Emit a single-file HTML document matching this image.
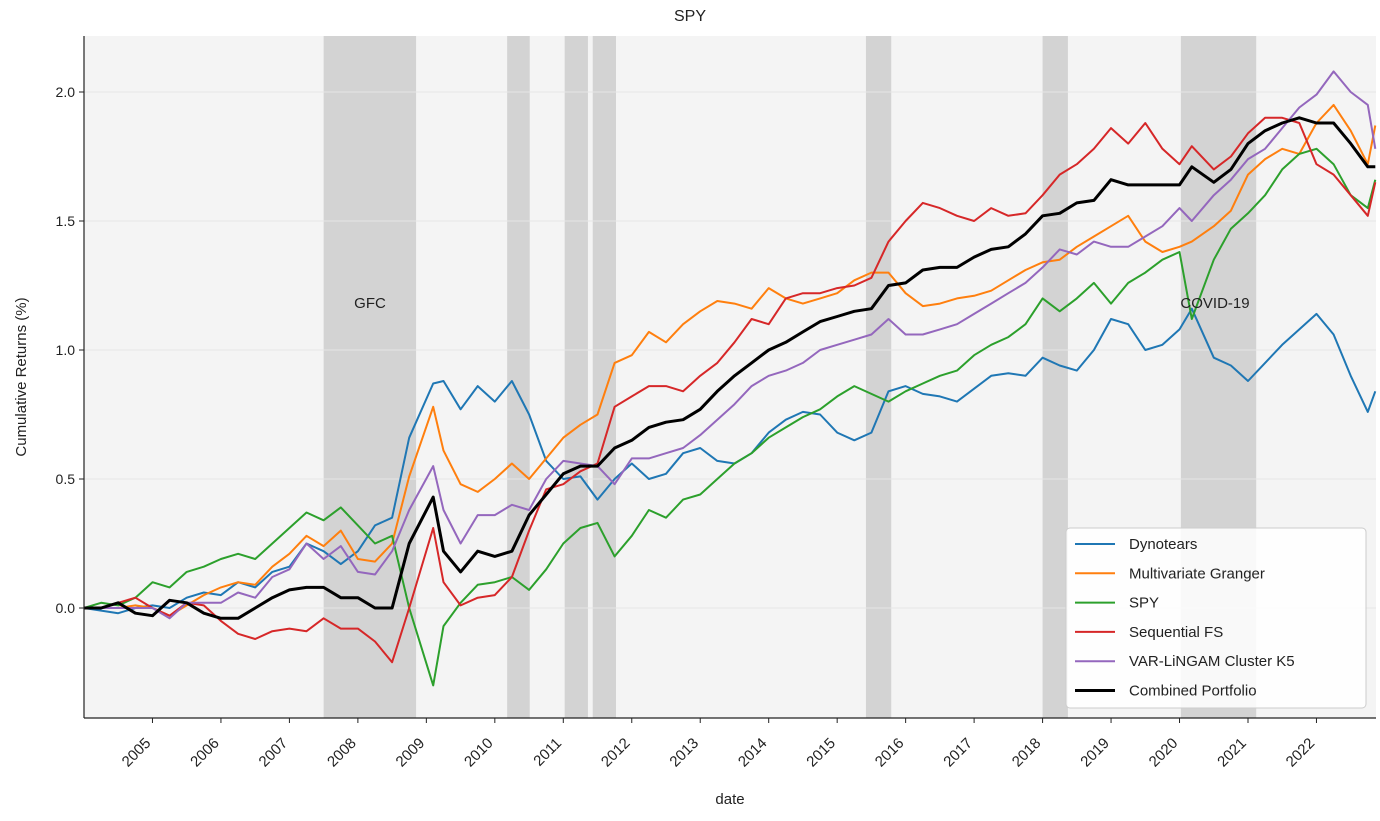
<!DOCTYPE html>
<html><head><meta charset="utf-8"><style>
body{margin:0;background:#fff;}
svg text{font-family:"Liberation Sans","DejaVu Sans",sans-serif;fill:#222;}
</style></head><body>
<svg id="chart" width="1380" height="816" xmlns="http://www.w3.org/2000/svg">
<rect x="0" y="0" width="1380" height="816" fill="#fff"/>
<rect x="84" y="36" width="1292" height="682" fill="#f4f4f4"/>
<g id="shade"></g><g id="grid"></g><g id="series"></g><g id="axes"></g>
<text x="690" y="21" text-anchor="middle" font-size="16">SPY</text>
<text transform="translate(26,377) rotate(-90)" text-anchor="middle" font-size="15">Cumulative Returns (%)</text>
<text x="730" y="804" text-anchor="middle" font-size="15">date</text>
<text x="370" y="308" text-anchor="middle" font-size="15">GFC</text>
<text x="1215" y="308" text-anchor="middle" font-size="15">COVID-19</text>
<g id="legend"></g>
</svg>
<script>
const dates=[2004,2004.25,2004.5,2004.75,2005,2005.25,2005.5,2005.75,2006,2006.25,2006.5,2006.75,2007,2007.25,2007.5,2007.75,2008,2008.25,2008.5,2008.75,2009.1,2009.25,2009.5,2009.75,2010,2010.25,2010.5,2010.75,2011,2011.25,2011.5,2011.75,2012,2012.25,2012.5,2012.75,2013,2013.25,2013.5,2013.75,2014,2014.25,2014.5,2014.75,2015,2015.25,2015.5,2015.75,2016,2016.25,2016.5,2016.75,2017,2017.25,2017.5,2017.75,2018,2018.25,2018.5,2018.75,2019,2019.25,2019.5,2019.75,2020,2020.18,2020.5,2020.75,2021,2021.25,2021.5,2021.75,2022,2022.25,2022.5,2022.75,2022.86];
const dynotears=[0,-0.01,-0.02,0,0.01,0,0.04,0.06,0.05,0.1,0.08,0.14,0.16,0.25,0.22,0.17,0.22,0.32,0.35,0.66,0.87,0.88,0.77,0.86,0.8,0.88,0.75,0.57,0.5,0.51,0.42,0.5,0.56,0.5,0.52,0.6,0.62,0.57,0.56,0.6,0.68,0.73,0.76,0.75,0.68,0.65,0.68,0.84,0.86,0.83,0.82,0.8,0.85,0.9,0.91,0.9,0.97,0.94,0.92,1.0,1.12,1.1,1.0,1.02,1.08,1.16,0.97,0.94,0.88,0.95,1.02,1.08,1.14,1.06,0.9,0.76,0.84];
const granger=[0,0,0,0.01,0,-0.03,0.01,0.05,0.08,0.1,0.09,0.16,0.21,0.28,0.24,0.3,0.19,0.18,0.25,0.51,0.78,0.61,0.48,0.45,0.5,0.56,0.5,0.58,0.66,0.71,0.75,0.95,0.98,1.07,1.03,1.1,1.15,1.19,1.18,1.16,1.24,1.2,1.18,1.2,1.22,1.27,1.3,1.3,1.22,1.17,1.18,1.2,1.21,1.23,1.27,1.31,1.34,1.35,1.4,1.44,1.48,1.52,1.42,1.38,1.4,1.42,1.48,1.54,1.68,1.74,1.78,1.76,1.88,1.95,1.85,1.72,1.87];
const spy=[0,0.02,0.01,0.04,0.1,0.08,0.14,0.16,0.19,0.21,0.19,0.25,0.31,0.37,0.34,0.39,0.32,0.25,0.28,0.0,-0.3,-0.07,0.02,0.09,0.1,0.12,0.07,0.15,0.25,0.31,0.33,0.2,0.28,0.38,0.35,0.42,0.44,0.5,0.56,0.6,0.66,0.7,0.74,0.77,0.82,0.86,0.83,0.8,0.84,0.87,0.9,0.92,0.98,1.02,1.05,1.1,1.2,1.15,1.2,1.26,1.18,1.26,1.3,1.35,1.38,1.12,1.35,1.47,1.53,1.6,1.7,1.76,1.78,1.72,1.6,1.55,1.66];
const seqfs=[0,0,0.02,0.04,0,-0.03,0.02,0.01,-0.05,-0.1,-0.12,-0.09,-0.08,-0.09,-0.04,-0.08,-0.08,-0.13,-0.21,0.0,0.31,0.1,0.01,0.04,0.05,0.12,0.3,0.46,0.48,0.53,0.56,0.78,0.82,0.86,0.86,0.84,0.9,0.95,1.03,1.12,1.1,1.2,1.22,1.22,1.24,1.25,1.28,1.42,1.5,1.57,1.55,1.52,1.5,1.55,1.52,1.53,1.6,1.68,1.72,1.78,1.86,1.8,1.88,1.78,1.72,1.79,1.7,1.75,1.84,1.9,1.9,1.88,1.72,1.68,1.6,1.52,1.65];
const lingam=[0,0,0,0,0,-0.04,0.02,0.02,0.02,0.06,0.04,0.12,0.15,0.25,0.19,0.24,0.14,0.13,0.22,0.38,0.55,0.38,0.25,0.36,0.36,0.4,0.38,0.5,0.57,0.56,0.55,0.48,0.58,0.58,0.6,0.62,0.67,0.73,0.79,0.86,0.9,0.92,0.95,1.0,1.02,1.04,1.06,1.12,1.06,1.06,1.08,1.1,1.14,1.18,1.22,1.26,1.32,1.39,1.37,1.42,1.4,1.4,1.44,1.48,1.55,1.5,1.6,1.66,1.74,1.78,1.86,1.94,1.99,2.08,2.0,1.95,1.78];
const combined=[0,0,0.02,-0.02,-0.03,0.03,0.02,-0.02,-0.04,-0.04,0,0.04,0.07,0.08,0.08,0.04,0.04,0,0,0.25,0.43,0.22,0.14,0.22,0.2,0.22,0.36,0.44,0.52,0.55,0.55,0.62,0.65,0.7,0.72,0.73,0.77,0.84,0.9,0.95,1.0,1.03,1.07,1.11,1.13,1.15,1.16,1.25,1.26,1.31,1.32,1.32,1.36,1.39,1.4,1.45,1.52,1.53,1.57,1.58,1.66,1.64,1.64,1.64,1.64,1.71,1.65,1.7,1.8,1.85,1.88,1.9,1.88,1.88,1.8,1.71,1.71];
const yTicks=[0,0.5,1.0,1.5,2.0];
const yTickLabels=["0.0","0.5","1.0","1.5","2.0"];
const xTicks=[2005,2006,2007,2008,2009,2010,2011,2012,2013,2014,2015,2016,2017,2018,2019,2020,2021,2022];
const crisisStart=[2007.5,2010.18,2011.02,2011.43,2015.42,2018.0,2020.02];
const crisisEnd=[2008.85,2010.51,2011.36,2011.77,2015.79,2018.37,2021.12];
const seriesNames=["Dynotears","Multivariate Granger","SPY","Sequential FS","VAR-LiNGAM Cluster K5","Combined Portfolio"];

const NS="http://www.w3.org/2000/svg";
const X=d=>84+(d-2004)*68.47;
const Y=v=>608-v*258;
function mk(parent,tag,attrs){const e=document.createElementNS(NS,tag);for(const k in attrs)e.setAttribute(k,attrs[k]);parent.appendChild(e);return e;}
const shade=document.getElementById('shade');
crisisStart.forEach((s,i)=>{
  const r=mk(shade,'rect',{x:X(s),y:36,width:X(crisisEnd[i])-X(s),height:682,fill:'#d3d3d3'});
  
  
});
const grid=document.getElementById('grid'),axes=document.getElementById('axes');
yTicks.forEach((t,i)=>{
  const g=mk(grid,'line',{x1:84,x2:1376,y1:Y(t),y2:Y(t),stroke:'#e6e6e6','stroke-width':1});
  
  
  mk(axes,'line',{x1:79,x2:84,y1:Y(t),y2:Y(t),stroke:'#222'});
  const tx=mk(axes,'text',{x:75,y:Y(t)+5,'text-anchor':'end','font-size':14});
  tx.textContent=yTickLabels[i];
  
  
});
xTicks.forEach(t=>{
  const x=X(t);
  mk(axes,'line',{x1:x,x2:x,y1:718,y2:723,stroke:'#222'});
  const ax=x-1, ay=744;
  const tx=mk(axes,'text',{x:ax,y:ay,'text-anchor':'end','font-size':15,transform:`rotate(-45 ${ax} ${ay})`});
  tx.textContent=String(t);
  
  
});
const ax1=mk(axes,'line',{x1:84,x2:84,y1:36,y2:718,stroke:'#222','stroke-width':1.2});


const ax2=mk(axes,'line',{x1:84,x2:1376,y1:718,y2:718,stroke:'#222','stroke-width':1.2});



const seriesData=[dynotears,granger,spy,seqfs,lingam,combined];
const colors=['#1f77b4','#ff7f0e','#2ca02c','#d62728','#9467bd','#000000'];
const widths=[2,2,2,2,2,3];
const sg=document.getElementById('series');
seriesData.forEach((vals,i)=>{
  const d=vals.map((v,j)=>(j?'L':'M')+X(dates[j]).toFixed(1)+' '+Y(v).toFixed(1)).join(' ');
  const p=mk(sg,'path',{d:d,fill:'none',stroke:colors[i],'stroke-width':widths[i],'stroke-linejoin':'round'});
  
  
});
const lg=document.getElementById('legend');
mk(lg,'rect',{x:1066,y:528,width:300,height:180,rx:4,fill:'#fff',stroke:'#cccccc','fill-opacity':0.85});
seriesNames.forEach((n,i)=>{
  const y=544+i*29.3;
  const it=mk(lg,'g',{});
  
  
  mk(it,'line',{x1:1075,x2:1115,y1:y,y2:y,stroke:colors[i],'stroke-width':widths[i]});
  const t=mk(it,'text',{x:1129,y:y+5,'font-size':15});
  t.textContent=n;
});
</script>
</body></html>
